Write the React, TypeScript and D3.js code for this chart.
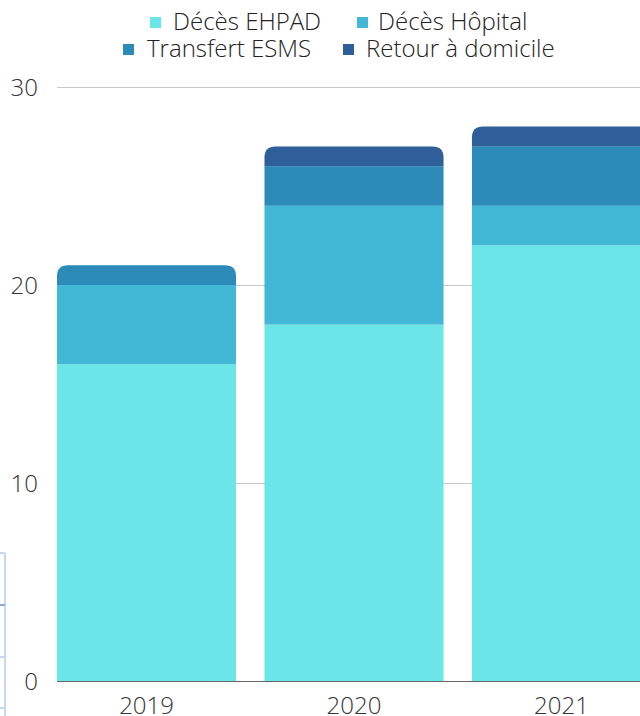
import React from "react";
import * as d3 from "d3";

const years = ["2019", "2020", "2021"];
const seriesNames = ["Décès EHPAD", "Décès Hôpital", "Transfert ESMS", "Retour à domicile"];
const decesEhpad = [16, 18, 22];
const decesHopital = [4, 6, 2];
const transfertEsms = [1, 2, 3];
const retourDomicile = [0, 1, 1];
const colors = ["#6ae5e8", "#42b7d6", "#2d8bba", "#2e5f99"];
const yTicks = [0, 10, 20, 30];

const W = 640;
const H = 716;
const FONT = "'Open Sans', sans-serif";
const FS = 24;

function topRoundedRect(x: number, y: number, w: number, h: number, r: number) {
  const rr = Math.min(r, h, w / 2);
  return `M${x},${y + h}V${y + rr}Q${x},${y} ${x + rr},${y}H${x + w - rr}Q${x + w},${y} ${x + w},${y + rr}V${y + h}Z`;
}

export default function App() {
  const table = years.map((yr, i) => ({
    year: yr,
    s0: decesEhpad[i],
    s1: decesHopital[i],
    s2: transfertEsms[i],
    s3: retourDomicile[i],
  }));
  const keys = ["s0", "s1", "s2", "s3"];
  const stacked = d3.stack<any>().keys(keys)(table);

  const x = d3.scaleBand().domain(years).range([57, 651]).paddingInner(0.137).paddingOuter(0);
  const y = d3.scaleLinear().domain([0, 30]).range([681, 87]);

  const topIdx = years.map((_, i) => {
    let t = 0;
    keys.forEach((_, k) => {
      if (stacked[k][i][1] - stacked[k][i][0] > 0) t = k;
    });
    return t;
  });

  const legendItems = [
    { i: 0, sx: 150, tx: 173, row: 0 },
    { i: 1, sx: 357, tx: 378, row: 0 },
    { i: 2, sx: 123, tx: 147, row: 1 },
    { i: 3, sx: 343, tx: 366, row: 1 },
  ];

  return (
    <svg width={W} height={H} style={{ position: "absolute", left: 0, top: 0, background: "#fff" }}>
      <g stroke="#c9d6f0" strokeWidth={2} fill="none">
        <line x1={5} y1={553} x2={5} y2={716} />
        <line x1={0} y1={553} x2={5} y2={553} />
        <line x1={0} y1={657} x2={5} y2={657} />
        <line x1={0} y1={708} x2={5} y2={708} />
      </g>
      <line x1={0} y1={605} x2={5} y2={605} stroke="#8fa8dc" strokeWidth={2} />

      {legendItems.map((it) => (
        <g key={it.i}>
          <rect x={it.sx} y={it.row === 0 ? 17 : 44} width={11} height={11} fill={colors[it.i]} />
          <text
            x={it.tx}
            y={it.row === 0 ? 30 : 57}
            fontFamily={FONT}
            fontWeight={300}
            fontSize={FS}
            fill="#222"
          >
            {seriesNames[it.i]}
          </text>
        </g>
      ))}

      {yTicks.slice(1).map((t) => (
        <line key={t} x1={57} x2={W} y1={y(t) + 0.5} y2={y(t) + 0.5} stroke="#c8c8c8" strokeWidth={1} />
      ))}
      {yTicks.map((t) => (
        <text
          key={"l" + t}
          x={38}
          y={y(t)}
          dy="0.36em"
          textAnchor="end"
          fontFamily={FONT}
          fontWeight={300}
          fontSize={FS}
          fill="#333"
        >
          {t}
        </text>
      ))}

      {stacked.map((layer, k) =>
        layer.map((d, i) => {
          const h = y(d[0]) - y(d[1]);
          if (h <= 0) return null;
          const bx = x(years[i])!;
          const bw = x.bandwidth();
          if (k === topIdx[i]) {
            return <path key={k + "-" + i} d={topRoundedRect(bx, y(d[1]), bw, h, 11)} fill={colors[k]} />;
          }
          return <rect key={k + "-" + i} x={bx} y={y(d[1])} width={bw} height={h} fill={colors[k]} />;
        })
      )}

      <line x1={57} x2={W} y1={681.5} y2={681.5} stroke="#666" strokeWidth={1} />
      {years.map((yr) => (
        <text
          key={yr}
          x={x(yr)! + x.bandwidth() / 2}
          y={714}
          textAnchor="middle"
          fontFamily={FONT}
          fontWeight={300}
          fontSize={FS}
          fill="#333"
        >
          {yr}
        </text>
      ))}
    </svg>
  );
}
